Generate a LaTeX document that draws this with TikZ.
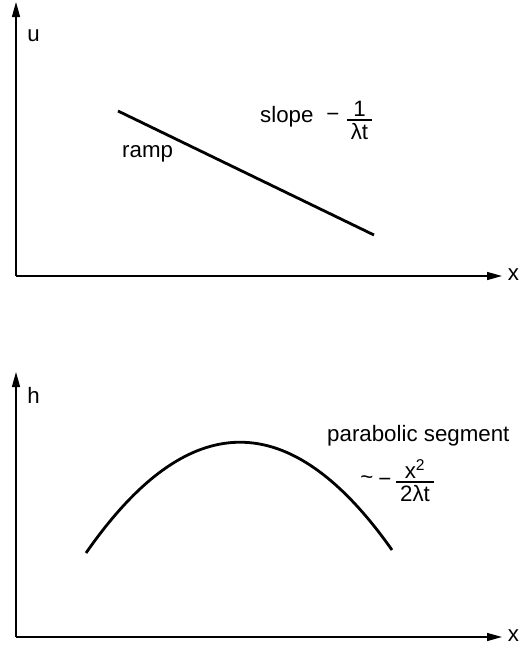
\documentclass[tikz,border=0pt]{standalone}
\usepackage{fontspec}
\setmainfont{Liberation Sans}
\usetikzlibrary{arrows.meta}
\newcommand{\myfrac}[2]{{\renewcommand{\arraystretch}{0.4}\setlength{\arrayrulewidth}{1.3pt}\begin{tabular}[t]{@{\,}c@{\,}}#1\\\hline\rule{0pt}{18.5pt}#2\end{tabular}}}
\tikzset{
  axisline/.style={line width=1.4pt,-{Triangle[length=15pt,width=8pt]}},
  curveline/.style={line width=2.8pt},
  lbl/.style={inner sep=0pt,font=\fontsize{22.3}{27}\selectfont},
}
\begin{document}
\begin{tikzpicture}[x=1pt,y=-1pt]
\useasboundingbox (0,0) rectangle (520,646);
% top panel
\coordinate (o1) at (16,276);
\coordinate (yt1) at (16,2);
\coordinate (xt1) at (502,276);
\draw[axisline] (o1) -- (yt1);
\draw[axisline] (o1) -- (xt1);
\node[lbl] (u) at (33.5,36) {u};
\node[lbl] (x1) at (513.5,275) {x};
\coordinate (r1) at (118,111);
\coordinate (r2) at (374,235);
\draw[curveline] (r1) -- (r2);
\node[lbl,anchor=base west] (ramp) at (122,157) {ramp};
\node[lbl,anchor=base west] (slope) at (260,122) {slope};
\node[lbl] (m1) at (333,117) {−};
\node[lbl,anchor=base] (f1) at (359.5,116) {\myfrac{1}{λt}};
% bottom panel
\coordinate (o2) at (16,637);
\coordinate (yt2) at (16,372);
\coordinate (xt2) at (502,637);
\draw[axisline] (o2) -- (yt2);
\draw[axisline] (o2) -- (xt2);
\node[lbl] (h) at (33.5,395) {h};
\node[lbl] (x2) at (513.5,636) {x};
\coordinate (p1) at (86,553);
\coordinate (p2) at (392,550);
\draw[curveline] (p1) .. controls (188,406.3) and (290,405.3) .. (p2);
\node[lbl,anchor=base west] (para) at (327,441) {parabolic segment};
\node[lbl] (tl) at (367,480) {\textasciitilde};
\node[lbl] (m2) at (385,482) {−};
\node[lbl,anchor=base] (f2) at (415,478) {\myfrac{x\textsuperscript{2}}{2λt}};
\end{tikzpicture}
\end{document}
